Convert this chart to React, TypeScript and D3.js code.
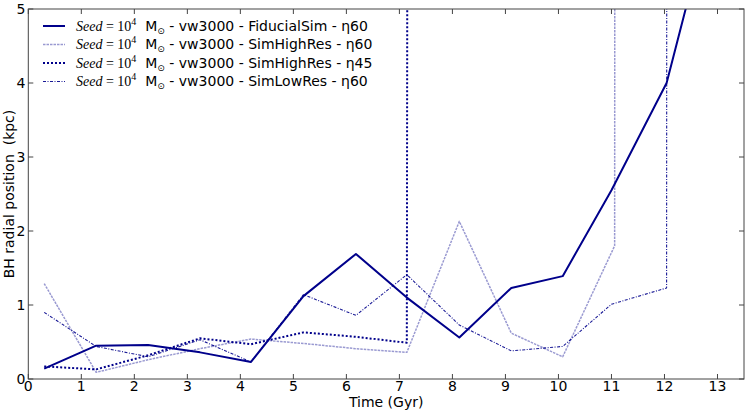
import React from "react";
import * as d3 from "d3";

const W = 747;
const H = 411;

const xTicks = [0, 1, 2, 3, 4, 5, 6, 7, 8, 9, 10, 11, 12, 13];
const yTicks = [0, 1, 2, 3, 4, 5];

const timeFid = [0.3, 1.28, 2.26, 3.24, 4.2, 5.19, 6.18, 7.14, 8.13, 9.11, 10.08, 11.0, 12.04, 13.0];
const rFid = [0.14, 0.45, 0.46, 0.36, 0.23, 1.12, 1.69, 1.1, 0.56, 1.23, 1.39, 2.55, 4.0, 6.67];

const timeHR60 = [0.3, 1.28, 2.26, 3.24, 4.2, 5.19, 6.18, 7.14, 8.13, 9.11, 10.08, 11.06, 11.08];
const rHR60 = [1.29, 0.09, 0.26, 0.41, 0.54, 0.48, 0.41, 0.36, 2.13, 0.62, 0.3, 1.8, 30];

const timeHR45 = [0.3, 1.28, 2.26, 3.24, 4.2, 5.19, 6.18, 7.14, 7.19];
const rHR45 = [0.17, 0.13, 0.32, 0.55, 0.47, 0.63, 0.57, 0.49, 30];

const timeLR = [0.3, 1.28, 2.26, 3.24, 4.2, 5.19, 6.18, 7.14, 8.13, 9.11, 10.08, 11.0, 12.04, 12.06];
const rLR = [0.9, 0.44, 0.3, 0.53, 0.23, 1.14, 0.86, 1.41, 0.73, 0.38, 0.44, 1.01, 1.23, 30];

const seriesNames = ["FiducialSim - η60", "SimHighRes - η60", "SimHighRes - η45", "SimLowRes - η60"];

const styles = [
  { color: "#00008b", width: 2, dash: "none", opacity: 1 },
  { color: "#00008b", width: 1.5, dash: "2.5,1", opacity: 0.4 },
  { color: "#00008b", width: 2, dash: "2,2", opacity: 1 },
  { color: "#00008b", width: 1.1, dash: "3,1.5,1,1.5", opacity: 0.9 },
];

export default function App() {
  const left = 28.3, right = 744, top = 9, bottom = 379;
  const x = d3.scaleLinear().domain([0, 13.5]).range([left, right]);
  const y = d3.scaleLinear().domain([0, 5]).range([bottom, top]);
  const line = d3
    .line<[number, number]>()
    .x((d) => x(d[0]))
    .y((d) => y(d[1]));

  const series = [
    d3.zip(timeFid, rFid),
    d3.zip(timeHR60, rHR60),
    d3.zip(timeHR45, rHR45),
    d3.zip(timeLR, rLR),
  ] as [number, number][][];

  const font = "'DejaVu Sans', sans-serif";
  const axisColor = "#444";
  const tickLen = 5;
  const legendX0 = 43, legendX1 = 65, legendTextX = 76;
  const legendRows = [26, 44.5, 63, 81.5];

  return (
    <svg width={W} height={H} style={{ position: "absolute", left: 0, top: 0, background: "#fff" }}>
      <defs>
        <clipPath id="plotclip">
          <rect x={left} y={top} width={right - left} height={bottom - top} />
        </clipPath>
      </defs>
      <rect x={0} y={0} width={W} height={H} fill="#fff" />
      <g clipPath="url(#plotclip)">
        {series.map((s, i) => (
          <path
            key={i}
            d={line(s) || ""}
            fill="none"
            stroke={styles[i].color}
            strokeWidth={styles[i].width}
            strokeDasharray={styles[i].dash}
            strokeOpacity={styles[i].opacity}
            strokeLinejoin="round"
          />
        ))}
      </g>
      <rect x={left} y={top} width={right - left} height={bottom - top} fill="none" stroke={axisColor} strokeWidth={1} />
      {xTicks.map((t) => (
        <g key={"x" + t}>
          <line x1={x(t)} x2={x(t)} y1={bottom} y2={bottom - tickLen} stroke={axisColor} />
          <line x1={x(t)} x2={x(t)} y1={top} y2={top + tickLen} stroke={axisColor} />
          <text x={x(t)} y={bottom + 12} fontFamily={font} fontSize={14} textAnchor="middle" fill="#000">
            {t}
          </text>
        </g>
      ))}
      {yTicks.map((t) => (
        <g key={"y" + t}>
          <line x1={left} x2={left + tickLen} y1={y(t)} y2={y(t)} stroke={axisColor} />
          <line x1={right} x2={right - tickLen} y1={y(t)} y2={y(t)} stroke={axisColor} />
          <text x={left - 3} y={y(t) + 5} fontFamily={font} fontSize={14} textAnchor="end" fill="#000">
            {t}
          </text>
        </g>
      ))}
      <text x={(left + right) / 2} y={407} fontFamily={font} fontSize={14} textAnchor="middle" fill="#000">
        Time (Gyr)
      </text>
      <text
        transform={`translate(13.5,${(top + bottom) / 2}) rotate(-90)`}
        fontFamily={font}
        fontSize={14}
        textAnchor="middle"
        fill="#000"
        style={{ whiteSpace: "pre" }}
      >
        BH radial position  (kpc)
      </text>
      {seriesNames.map((name, i) => (
        <g key={"lg" + i}>
          <line
            x1={legendX0}
            x2={legendX1}
            y1={legendRows[i]}
            y2={legendRows[i]}
            stroke={styles[i].color}
            strokeWidth={styles[i].width}
            strokeDasharray={styles[i].dash}
            strokeOpacity={styles[i].opacity}
          />
          <text x={legendTextX} y={legendRows[i] + 4.5} fontSize={14} fill="#000" style={{ whiteSpace: "pre" }}>
            <tspan fontFamily="'Liberation Serif', serif" fontStyle="italic">Seed</tspan>
            <tspan fontFamily="'Liberation Serif', serif">{" = 10"}</tspan>
            <tspan fontFamily="'Liberation Serif', serif" fontSize={10} dy={-6}>4</tspan>
            <tspan fontFamily={font} dy={6}>{"  M"}</tspan>
            <tspan fontFamily={font} fontSize={9} dy={3}>⊙</tspan>
            <tspan fontFamily={font} dy={-3}>{" - vw3000 - " + name}</tspan>
          </text>
        </g>
      ))}
    </svg>
  );
}
